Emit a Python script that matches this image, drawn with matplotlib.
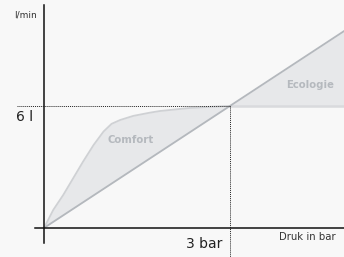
import matplotlib
matplotlib.use("Agg")
import matplotlib.pyplot as plt
import numpy as np

# Data (bar, l/min)
comfort_x = [0, 0.15, 0.31, 0.47, 0.63, 0.80, 0.96, 1.09, 1.23, 1.44, 1.71, 1.87, 2.35, 2.70, 3.0]
comfort_y = [0, 0.89, 1.62, 2.44, 3.26, 4.08, 4.74, 5.12, 5.31, 5.51, 5.67, 5.75, 5.90, 5.96, 6.0]
linear_x = [0, 3.0, 4.84]
linear_y = [0, 6.0, 9.68]
eco_x = [3.0, 4.84]
eco_cap = [6.0, 6.0]
ref_x = 3.0
ref_y = 6.0

BG = "#f8f8f8"
FILL = "#e7e8ea"
LINE = "#b4b8bd"
CURVE = "#cfd1d4"
LABEL = "#b5b9be"

fig = plt.figure(figsize=(3.44, 2.57), dpi=100, facecolor=BG)
ax = fig.add_axes([0, 0, 1, 1])
ax.set_facecolor(BG)
ax.set_xlim(-0.71, 4.84)
ax.set_ylim(-1.43, 11.21)
ax.axis("off")

# Comfort area
lin_at_c = np.interp(comfort_x, linear_x, linear_y)
ax.fill_between(comfort_x, lin_at_c, comfort_y, color=FILL, lw=0, zorder=1)
ax.plot(comfort_x, comfort_y, color=CURVE, lw=1.3, zorder=2,
        solid_capstyle="round", solid_joinstyle="round")

# Ecologie area
lin_at_e = np.interp(eco_x, linear_x, linear_y)
ax.fill_between(eco_x, eco_cap, lin_at_e, color=FILL, lw=0, zorder=1)
ax.plot(eco_x, eco_cap, color="#d9dadd", lw=1.8, zorder=2)

# Linear line
ax.plot(linear_x, linear_y, color=LINE, lw=1.3, zorder=3)

# Reference dotted lines
ax.plot([-0.44, ref_x], [ref_y, ref_y], color="#222222", lw=0.7, ls=(0, (1, 1)), zorder=4)
ax.plot([ref_x, ref_x], [ref_y, -1.43], color="#222222", lw=0.7, ls=(0, (1, 1)), zorder=4)

# Axes
ax.plot([0, 0], [-0.74, 10.97], color="#111111", lw=1.1, zorder=5)
ax.plot([-0.15, 4.84], [0, 0], color="#111111", lw=1.1, zorder=5)

# Texts
ax.text(-0.12, 10.45, "l/min", ha="right", va="center", fontsize=6.5, color="#333333")
ax.text(-0.17, 5.45, "6 l", ha="right", va="center", fontsize=10, color="#222222")
ax.text(2.88, -0.78, "3 bar", ha="right", va="center", fontsize=10, color="#222222")
ax.text(4.71, -0.45, "Druk in bar", ha="right", va="center", fontsize=7.3, color="#333333")
ax.text(1.39, 4.3, "Comfort", ha="center", va="center", fontsize=7.3, fontweight="bold", color=LABEL)
ax.text(4.29, 7.05, "Ecologie", ha="center", va="center", fontsize=7.3, fontweight="bold", color=LABEL)

fig.savefig("out.png", dpi=100, facecolor=BG)
